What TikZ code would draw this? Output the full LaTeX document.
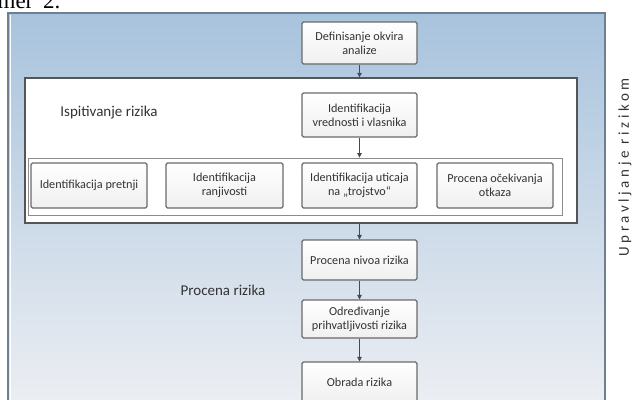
\documentclass[tikz,border=0pt]{standalone}
\usepackage{fontspec}
\setmainfont{Carlito}
\newfontfamily\captionfont{Liberation Serif}
\newfontfamily\spacedfont[LetterSpace=24]{Carlito}
\usetikzlibrary{arrows.meta}

\definecolor{panelTop}{HTML}{A8C3DD}
\definecolor{panelMid}{HTML}{D2DDE9}
\definecolor{panelBot}{HTML}{EDEFF3}
\definecolor{panelEdge}{HTML}{6E7F92}
\definecolor{boxEdge}{HTML}{6A6A6A}
\definecolor{frameEdge}{HTML}{555555}
\definecolor{rowEdge}{HTML}{8C8C8C}
\definecolor{txt}{HTML}{333333}
\definecolor{arrowCol}{HTML}{3D4B5C}

\tikzset{
  stepbox/.style={draw=boxEdge, line width=1.1bp, rounded corners=1.5bp,
    top color=white, bottom color=black!6, text=txt,
    font=\fontsize{12.2bp}{14bp}\selectfont, align=center,
    inner sep=0pt},
  frame/.style={draw=frameEdge, line width=1.3bp, fill=white, inner sep=0pt},
  rowframe/.style={draw=rowEdge, line width=0.8bp, fill=white, inner sep=0pt},
  grouplabel/.style={text=txt, font=\fontsize{15bp}{17bp}\selectfont, inner sep=0pt},
  flow/.style={draw=arrowCol, line width=0.8bp,
    -{Triangle[length=4.5bp,width=4.5bp]}},
}

\begin{document}
\begin{tikzpicture}[x=1bp,y=-1bp]
\useasboundingbox (0,0) rectangle (632,399);
\clip (0,0) rectangle (632,399);

% caption line running above the figure
\node[anchor=base west, font=\captionfont\fontsize{23bp}{26bp}\selectfont, inner sep=0pt]
  (cap) at (-2.5,8.5) {me\kern-0.3bp r\hspace{10bp}2.};

% outer management panel
\shade[top color=panelTop, middle color=panelMid, bottom color=panelBot]
  (8,13) rectangle (605,410);
\draw[white, line width=0.8bp] (10,15) -- (10,410);
\draw[panelEdge, line width=1.2bp] (8,410) -- (8,13) -- (605,13) -- (605,410);

% risk examination frame and its inner row
\node[frame, minimum width=552bp, minimum height=145bp] (exam) at (301,150.5) {};
\node[rowframe, minimum width=534bp, minimum height=57bp] (row) at (295,186.5) {};

% central column
\node[stepbox, minimum width=115bp, minimum height=42bp] (def) at (359.5,43)
  {Definisanje okvira\\analize};
\node[stepbox, minimum width=115bp, minimum height=44bp] (vred) at (359.5,115)
  {Identifikacija\\vrednosti i vlasnika};

% row of identification steps
\node[stepbox, minimum width=116bp, minimum height=45bp] (pret) at (89,185.5)
  {Identifikacija pretnji};
\node[stepbox, minimum width=117bp, minimum height=45bp] (ranj) at (224.5,185.5)
  {Identifikacija\\ranjivosti};
\node[stepbox, minimum width=115bp, minimum height=45bp] (utic) at (359.5,185.5)
  {Identifikacija uticaja\\na „trojstvo“};
\node[stepbox, minimum width=116bp, minimum height=45bp] (otk) at (495,185.5)
  {Procena očekivanja\\otkaza};

% assessment steps
\node[stepbox, minimum width=115bp, minimum height=40bp] (nivo) at (359.5,260)
  {Procena nivoa rizika};
\node[stepbox, minimum width=115bp, minimum height=38bp] (prih) at (359.5,319)
  {Određivanje\\prihvatljivosti rizika};
\node[stepbox, minimum width=115bp, minimum height=40bp] (obr) at (359.5,382)
  {Obrada rizika};

% group labels
\node[grouplabel] (lblisp) at (109,113) {Ispitivanje rizika};
\node[grouplabel] (lblpro) at (223,290) {Procena rizika};
\node[text=txt, rotate=90, inner sep=0pt,
  font=\spacedfont\fontsize{15bp}{17bp}\selectfont] (lblupr) at (625,167.5)
  {Upravljanje rizikom};

% connectors
\draw[flow] (def.south) -- (def.south |- exam.north);
\draw[flow] (vred.south) -- (vred.south |- row.north);
\draw[flow] (nivo.north |- exam.south) -- (nivo.north);
\draw[flow] (nivo.south) -- (prih.north);
\draw[flow] (prih.south) -- (obr.north);
\end{tikzpicture}
\end{document}
